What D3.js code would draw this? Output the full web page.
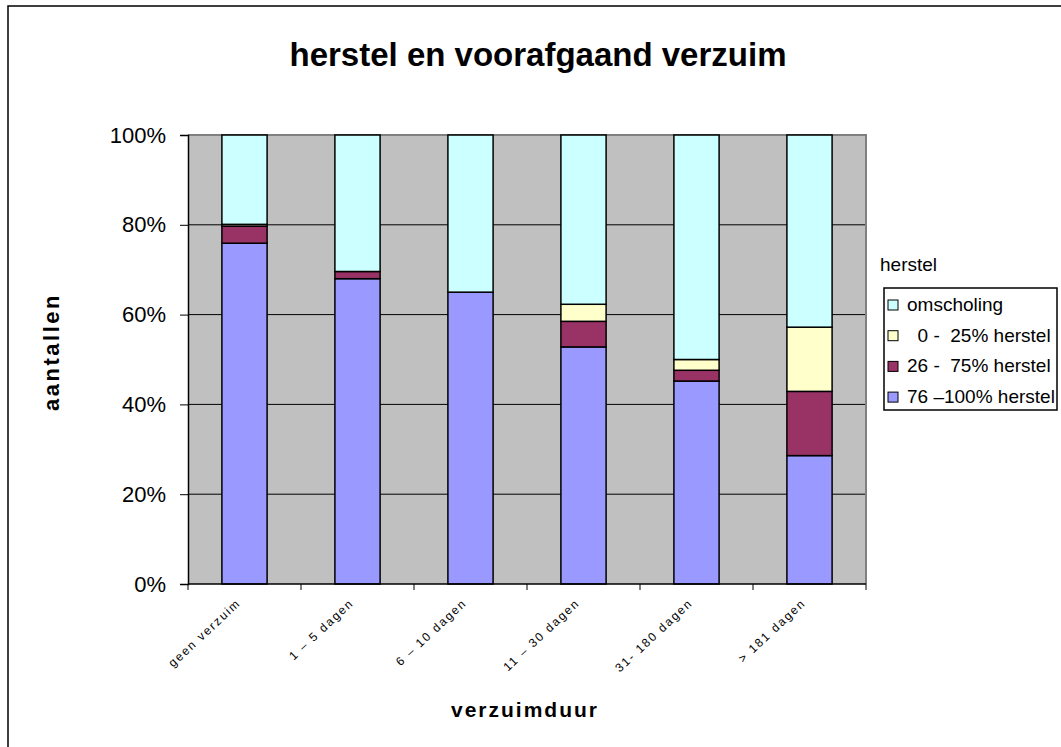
<!DOCTYPE html>
<html>
<head>
<meta charset="utf-8">
<script src="https://cdn.jsdelivr.net/npm/d3@7"></script>
<style>
  body { margin: 0; background: #fff; }
  svg { display: block; font-family: Arial, "Liberation Sans", sans-serif; }
</style>
</head>
<body>
<svg width="1061" height="747"></svg>
<script>
// verzuimduur categories
var categories = ["geen verzuim", "1 \u2013 5 dagen", "6 \u2013 10 dagen", "11 \u2013 30 dagen", "31- 180 dagen", "> 181 dagen"];

// percentages per herstel group (bottom to top)
var herstel76 = [75.9, 68.0, 65.0, 52.8, 45.2, 28.6];
var herstel26 = [3.8, 1.6, 0, 5.7, 2.4, 14.3];
var herstel0 = [0.4, 0, 0, 3.8, 2.4, 14.3];
var omscholing = [19.9, 30.4, 35.0, 37.7, 50.0, 42.8];

var seriesKeys = ["h76", "h26", "h0", "oms"];
var seriesNames = ["76 \u2013100% herstel", "26 -  75% herstel", "  0 -  25% herstel", "omscholing"];
var seriesColors = ["#9999ff", "#993366", "#ffffcc", "#ccffff"];

var yTicks = [0, 0.2, 0.4, 0.6, 0.8, 1];

var svg = d3.select("svg");

var plotLeft = 188, plotRight = 866, plotTop = 135, plotBottom = 584;

var rows = categories.map(function (c, i) {
    return { cat: c, h76: herstel76[i], h26: herstel26[i], h0: herstel0[i], oms: omscholing[i] };
});

var stack = d3.stack().keys(seriesKeys).offset(d3.stackOffsetExpand);
var series = stack(rows);

var x = d3.scaleBand().domain(categories).range([plotLeft, plotRight]).paddingInner(0.6).paddingOuter(0.3);
var y = d3.scaleLinear().domain([0, 1]).range([plotBottom, plotTop]);

// outer chart frame
svg.append("rect")
    .attr("x", 8).attr("y", 6).attr("width", 1100).attr("height", 800)
    .attr("fill", "none").attr("stroke", "#000").attr("stroke-width", 1.5);

// plot area
svg.append("rect")
    .attr("x", plotLeft).attr("y", plotTop).attr("width", plotRight - plotLeft).attr("height", plotBottom - plotTop)
    .attr("fill", "#c0c0c0");

// gridlines
svg.append("g")
    .selectAll("line")
    .data(yTicks.slice(1, -1))
    .enter().append("line")
    .attr("x1", plotLeft).attr("x2", plotRight)
    .attr("y1", function (d) { return y(d); })
    .attr("y2", function (d) { return y(d); })
    .attr("stroke", "#000").attr("stroke-width", 1);

// top and right plot border
svg.append("path")
    .attr("d", "M" + plotLeft + "," + y(1) + "H" + plotRight + "V" + y(0))
    .attr("fill", "none").attr("stroke", "#808080").attr("stroke-width", 2);

// bars
svg.append("g")
    .selectAll("g")
    .data(series)
    .enter().append("g")
    .attr("fill", function (d, i) { return seriesColors[i]; })
    .selectAll("rect")
    .data(function (d) { return d.filter(function (p) { return p[1] - p[0] > 0; }); })
    .enter().append("rect")
    .attr("x", function (d) { return x(d.data.cat); })
    .attr("width", x.bandwidth())
    .attr("y", function (d) { return y(d[1]); })
    .attr("height", function (d) { return y(d[0]) - y(d[1]); })
    .attr("stroke", "#000").attr("stroke-width", 1.5);

// y axis
var yAxis = svg.append("g")
    .attr("transform", "translate(" + plotLeft + ",0)")
    .call(d3.axisLeft(y).tickValues(yTicks).tickFormat(d3.format(".0%")).tickSize(8).tickPadding(14));
yAxis.select(".domain").attr("stroke", "#000").attr("stroke-width", 1.5);
yAxis.selectAll(".tick line").attr("stroke", "#000");
yAxis.selectAll("text").attr("font-size", 22).attr("font-family", "Arial, 'Liberation Sans', sans-serif").attr("fill", "#000");

// x axis line + boundary ticks
var step = x.step();
var bounds = categories.map(function (c) { return x(c) - step * 0.3; });
bounds.push(plotRight);
svg.append("line")
    .attr("x1", plotLeft).attr("x2", plotRight).attr("y1", plotBottom).attr("y2", plotBottom)
    .attr("stroke", "#000").attr("stroke-width", 1.5);
svg.append("g")
    .selectAll("line")
    .data(bounds)
    .enter().append("line")
    .attr("x1", function (d) { return d; }).attr("x2", function (d) { return d; })
    .attr("y1", plotBottom).attr("y2", plotBottom + 6)
    .attr("stroke", "#000");

// rotated category labels
svg.append("g")
    .selectAll("text")
    .data(categories)
    .enter().append("text")
    .attr("transform", function (d) {
        return "translate(" + (x(d) + x.bandwidth() / 2 - 3) + "," + (plotBottom + 20) + ") rotate(-43)";
    })
    .attr("text-anchor", "end")
    .attr("font-size", 12)
    .attr("letter-spacing", 1.8)
    .text(function (d) { return d; });

// titles
svg.append("text")
    .attr("x", 538).attr("y", 66)
    .attr("text-anchor", "middle")
    .attr("font-size", 33).attr("font-weight", "bold")
    .text("herstel en voorafgaand verzuim");

svg.append("text")
    .attr("x", 525).attr("y", 717)
    .attr("text-anchor", "middle")
    .attr("font-size", 21).attr("font-weight", "bold")
    .attr("letter-spacing", 2)
    .text("verzuimduur");

svg.append("text")
    .attr("transform", "translate(59,352) rotate(-90)")
    .attr("text-anchor", "middle")
    .attr("font-size", 22).attr("font-weight", "bold")
    .attr("letter-spacing", 2.5)
    .text("aantallen");

// legend
svg.append("text")
    .attr("x", 880).attr("y", 271)
    .attr("font-size", 19)
    .text("herstel");

svg.append("rect")
    .attr("x", 884).attr("y", 288).attr("width", 173).attr("height", 122)
    .attr("fill", "#fff").attr("stroke", "#000").attr("stroke-width", 1.5);

var legendOrder = [3, 2, 1, 0];
var legend = svg.append("g")
    .selectAll("g")
    .data(legendOrder)
    .enter().append("g")
    .attr("transform", function (d, i) { return "translate(0," + (311 + i * 30.7) + ")"; });
legend.append("rect")
    .attr("x", 888).attr("y", -11).attr("width", 10).attr("height", 10)
    .attr("fill", function (d) { return seriesColors[d]; })
    .attr("stroke", "#000").attr("stroke-width", 1);
legend.append("text")
    .attr("x", 907).attr("y", 0)
    .attr("font-size", 19)
    .style("white-space", "pre")
    .text(function (d) { return seriesNames[d]; });
</script>
</body>
</html>
